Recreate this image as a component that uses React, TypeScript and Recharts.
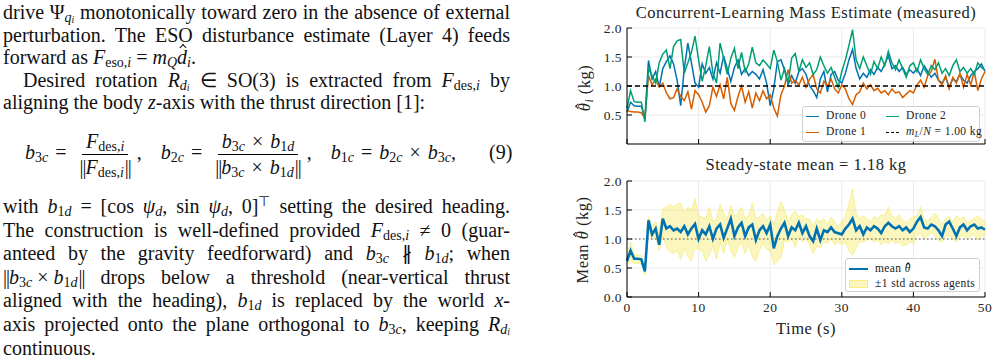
import React from 'react';
import { ComposedChart, Line, Area, XAxis, YAxis, CartesianGrid, ReferenceLine } from 'recharts';

// time axis (s)
const TIME = [
  0, 0.5, 1, 1.5, 2, 2.5, 3, 3.5, 4, 4.5, 5, 5.5, 6, 6.5, 7, 7.5, 8, 8.5, 9, 9.5,
  10, 10.5, 11, 11.5, 12, 12.5, 13, 13.5, 14, 14.5, 15, 15.5, 16, 16.5, 17, 17.5, 18, 18.5, 19, 19.5,
  20, 20.5, 21, 21.5, 22, 22.5, 23, 23.5, 24, 24.5, 25, 25.5, 26, 26.5, 27, 27.5, 28, 28.5, 29, 29.5,
  30, 30.5, 31, 31.5, 32, 32.5, 33, 33.5, 34, 34.5, 35, 35.5, 36, 36.5, 37, 37.5, 38, 38.5, 39, 39.5,
  40, 40.5, 41, 41.5, 42, 42.5, 43, 43.5, 44, 44.5, 45, 45.5, 46, 46.5, 47, 47.5, 48, 48.5, 49, 49.5,
  50,
];

// per-drone mass estimates (kg)
const DRONE0 = [
  0.55, 0.72, 0.66, 0.65, 0.65, 0.45, 1.44, 1.12, 1.25, 0.98,
  1.30, 1.42, 1.52, 1.38, 1.10, 0.66, 1.30, 1.74, 1.40, 1.05,
  0.98, 1.38, 1.22, 1.32, 1.12, 1.40, 1.22, 1.52, 1.30, 1.08,
  1.32, 1.45, 1.20, 1.30, 1.18, 1.25, 1.20, 1.12, 1.28, 1.05,
  0.66, 0.95, 1.42, 1.45, 1.28, 1.02, 1.18, 1.05, 1.25, 1.30,
  1.20, 1.00, 0.92, 0.80, 1.12, 1.25, 0.90, 1.20, 1.25, 1.10,
  1.05, 1.22, 1.45, 1.63, 1.30, 1.12, 1.22, 1.15, 1.28, 1.20,
  1.32, 1.25, 1.38, 1.52, 1.30, 1.35, 1.25, 1.32, 1.20, 1.28,
  1.22, 1.30, 1.18, 1.35, 1.25, 1.15, 1.22, 1.10, 1.05, 1.15,
  0.98, 1.12, 1.08, 1.20, 1.10, 1.05, 1.18, 1.25, 1.30, 1.38,
  1.25,
];
const DRONE1 = [
  0.58, 0.56, 0.55, 0.55, 0.54, 0.44, 1.18, 1.02, 1.12, 0.98,
  1.05, 0.88, 0.78, 0.80, 0.95, 0.82, 0.75, 0.90, 0.60, 0.92,
  0.85, 0.72, 0.55, 0.66, 0.98, 0.82, 1.02, 0.78, 1.15, 0.70,
  0.58, 0.82, 1.00, 0.72, 0.90, 0.62, 0.88, 0.75, 0.92, 0.78,
  0.85, 0.62, 0.48, 0.85, 1.00, 1.28, 1.05, 1.10, 1.02, 1.15,
  0.98, 1.12, 1.20, 0.95, 0.88, 1.08, 1.00, 1.12, 0.95, 0.88,
  1.02, 0.95, 0.78, 0.68, 0.85, 0.90, 1.05, 0.95, 1.02, 0.92,
  0.96, 0.88, 0.92, 0.85, 0.95, 0.88, 0.90, 0.80, 0.86, 0.92,
  0.88, 1.02, 1.10, 0.98, 1.18, 1.25, 1.46, 1.10, 1.02, 1.18,
  0.95, 1.15, 1.05, 1.22, 0.98, 1.20, 1.02, 1.25, 0.92, 1.12,
  1.25,
];
const DRONE2 = [
  0.62, 0.92, 0.73, 0.72, 0.72, 0.38, 1.30, 1.18, 1.05, 1.40,
  1.55, 1.62, 1.30, 1.68, 1.78, 1.80, 1.22, 1.40, 1.58, 1.86,
  1.45, 1.08, 1.35, 1.68, 1.22, 1.05, 1.74, 1.48, 1.20, 1.48,
  1.65, 1.30, 1.58, 1.25, 1.38, 1.67, 1.40, 1.35, 1.45, 1.38,
  1.30, 1.62, 1.42, 1.10, 1.30, 1.05, 1.48, 1.56, 1.25, 1.45,
  1.32, 1.40, 1.20, 1.28, 1.50, 1.35, 1.22, 1.32, 1.15, 0.98,
  1.25, 1.45, 1.70, 1.97, 1.45, 1.30, 1.50, 1.35, 1.20, 1.42,
  1.30, 1.50, 1.35, 1.60, 1.40, 1.28, 1.45, 1.30, 1.15, 1.35,
  1.40, 1.25, 1.45, 1.30, 1.20, 1.35, 1.28, 1.40, 1.22, 1.30,
  1.18, 1.35, 1.45, 1.25, 1.32, 1.22, 1.30, 1.20, 1.40, 1.32,
  1.28,
];

// mean estimate and ±1 std band (kg)
const MEAN = [
  0.62, 0.80, 0.66, 0.66, 0.65, 0.44, 1.32, 1.08, 1.18, 0.90,
  1.35, 1.18, 1.22, 1.15, 1.18, 1.12, 1.22, 1.08, 1.18, 1.26,
  1.00, 1.15, 1.08, 1.22, 1.00, 1.18, 1.25, 1.02, 1.18, 1.35,
  1.05, 1.20, 1.28, 1.05, 1.20, 1.25, 0.98, 1.15, 1.22, 1.10,
  1.25, 0.84, 1.05, 1.18, 1.28, 1.05, 1.20, 1.15, 1.28, 1.10,
  1.22, 1.05, 0.96, 1.18, 0.98, 1.15, 1.12, 1.20, 1.12, 1.10,
  1.08, 1.18, 1.25, 1.35, 1.15, 1.22, 1.08, 1.20, 1.15, 1.22,
  1.18, 1.10, 1.22, 1.28, 1.22, 1.18, 1.22, 1.15, 1.20, 1.12,
  1.18, 1.30, 1.38, 1.20, 1.18, 1.25, 1.22, 1.15, 1.05, 1.25,
  1.30, 1.18, 1.05, 1.20, 1.25, 1.15, 1.22, 1.25, 1.18, 1.20,
  1.16,
];
const UPPER = [
  0.70, 0.95, 0.74, 0.73, 0.72, 0.50, 1.38, 1.22, 1.30, 1.15,
  1.52, 1.55, 1.60, 1.55, 1.60, 1.62, 1.45, 1.55, 1.50, 1.70,
  1.40, 1.38, 1.35, 1.55, 1.30, 1.35, 1.60, 1.45, 1.35, 1.58,
  1.40, 1.45, 1.55, 1.35, 1.40, 1.62, 1.35, 1.38, 1.45, 1.32,
  1.40, 1.25, 1.45, 1.65, 1.50, 1.30, 1.42, 1.48, 1.38, 1.42,
  1.35, 1.35, 1.22, 1.35, 1.30, 1.35, 1.25, 1.38, 1.30, 1.22,
  1.30, 1.38, 1.62, 1.86, 1.45, 1.35, 1.40, 1.35, 1.30, 1.38,
  1.35, 1.42, 1.40, 1.55, 1.40, 1.35, 1.42, 1.32, 1.28, 1.35,
  1.38, 1.40, 1.55, 1.35, 1.30, 1.38, 1.45, 1.35, 1.25, 1.35,
  1.38, 1.30, 1.40, 1.35, 1.38, 1.28, 1.32, 1.35, 1.40, 1.35,
  1.30,
];
const LOWER = [
  0.56, 0.62, 0.58, 0.58, 0.57, 0.38, 1.20, 0.98, 1.05, 0.80,
  1.05, 0.85, 0.78, 0.75, 0.80, 0.65, 0.85, 0.70, 0.62, 0.85,
  0.82, 0.80, 0.62, 0.72, 0.90, 0.65, 0.95, 0.75, 1.00, 0.80,
  0.68, 0.85, 0.95, 0.75, 0.90, 0.70, 0.62, 0.80, 0.92, 0.82,
  0.80, 0.55, 0.62, 0.68, 0.98, 0.95, 1.00, 0.85, 1.05, 0.95,
  1.00, 0.90, 0.75, 0.88, 0.85, 0.95, 0.92, 1.00, 0.90, 0.95,
  0.90, 0.95, 0.80, 0.72, 0.85, 0.95, 0.95, 0.98, 1.00, 0.95,
  0.98, 0.90, 0.95, 0.92, 0.98, 0.92, 0.95, 0.88, 0.90, 0.95,
  0.92, 1.05, 1.10, 1.00, 1.05, 1.12, 1.05, 0.98, 0.95, 1.05,
  1.05, 1.00, 0.95, 1.05, 1.05, 1.00, 1.05, 1.08, 0.98, 1.05,
  1.05,
];

const X_TICKS = [0, 10, 20, 30, 40, 50];
const Y_TICKS = [0, 0.5, 1.0, 1.5, 2.0];
const TARGET_MASS = 1.0;

const BLUE = '#0072B2';
const VERMILLION = '#D55E00';
const GREEN = '#009E73';
const YELLOW = '#F0E442';

const rows = TIME.map((t, i) => ({
  t,
  d0: DRONE0[i],
  d1: DRONE1[i],
  d2: DRONE2[i],
  mean: MEAN[i],
  band: [LOWER[i], UPPER[i]],
}));

const SERIF = "'Liberation Serif', 'Times New Roman', serif";
const tickStyle = { fill: '#262626', fontSize: 13.5, fontFamily: SERIF, letterSpacing: 0.5 };

type Kids = { children?: React.ReactNode };

const I = ({ children }: Kids) => <span style={{ fontStyle: 'italic' }}>{children}</span>;
const Sb = ({ children, shift = 0.22 }: Kids & { shift?: number }) => (
  <span style={{ fontSize: '0.7em', position: 'relative', top: `${shift}em`, lineHeight: 0 }}>{children}</span>
);
// hat accent, drawn as a small chevron over the glyph
const Hat = ({ children, lift = 0 }: Kids & { lift?: number }) => (
  <span style={{ position: 'relative', display: 'inline-block', lineHeight: 1 }}>
    {children}
    <span
      style={{
        position: 'absolute',
        left: '60%',
        top: `${0.02 - lift}em`,
        width: '0.2em',
        height: '0.2em',
        borderLeft: '1px solid currentColor',
        borderTop: '1px solid currentColor',
        transform: 'translateX(-50%) rotate(45deg)',
      }}
    />
  </span>
);
const Op = ({ children, gap = 7 }: Kids & { gap?: number }) => <span style={{ margin: `0 ${gap}px` }}>{children}</span>;
const Norm = ({ children }: Kids) => (
  <>
    <span style={{ letterSpacing: -1 }}>||</span>
    {children}
    <span style={{ letterSpacing: -1, marginLeft: 1 }}>||</span>
  </>
);
const Bv = ({ n, s }: { n: string; s: string }) => (
  <>
    <I>b</I>
    <Sb>
      {n}
      <I>{s}</I>
    </Sb>
  </>
);
const Fdes = () => (
  <>
    <I>F</I>
    <Sb>
      des,<I>i</I>
    </Sb>
  </>
);

const Frac = ({ num, den }: { num: React.ReactNode; den: React.ReactNode }) => (
  <span style={{ display: 'inline-flex', flexDirection: 'column', alignItems: 'center', verticalAlign: 'middle', margin: '0 2px' }}>
    <span style={{ padding: '0 4px 1px', borderBottom: '1px solid #000', lineHeight: '23px' }}>{num}</span>
    <span style={{ padding: '1px 4px 0', lineHeight: '23px' }}>{den}</span>
  </span>
);

const lineStyle = (top: number, justify: boolean, indent = 0): React.CSSProperties => ({
  position: 'absolute',
  left: 3 + indent,
  top,
  width: 507 - indent,
  height: 24,
  lineHeight: '24px',
  textAlign: justify ? 'justify' : 'left',
  textAlignLast: justify ? 'justify' : 'left',
});

const BodyText = () => {
  const top1 = 0;
  const top2 = 194;
  const s1 = 22.6;
  const s2 = 23.6;
  return (
    <div style={{ position: 'absolute', left: 0, top: 0, width: 520, height: 361, fontFamily: SERIF, fontSize: 20, color: '#111' }}>
      <div style={lineStyle(top1, true)}>
        drive Ψ<Sb><I>q</I><Sb shift={0.12}><I>i</I></Sb></Sb> monotonically toward zero in the absence of external
      </div>
      <div style={lineStyle(top1 + s1, true)}>perturbation. The ESO disturbance estimate (Layer 4) feeds</div>
      <div style={lineStyle(top1 + 2 * s1, false)}>
        forward as <I>F</I><Sb>eso,<I>i</I></Sb> = <I>m</I><Sb><I>Q</I></Sb><I><Hat lift={0.12}>d</Hat></I><Sb><I>i</I></Sb>.
      </div>
      <div style={lineStyle(top1 + 3 * s1, true, 20)}>
        Desired rotation <I>R</I><Sb><I>d</I><Sb shift={0.12}><I>i</I></Sb></Sb> ∈ SO(3) is extracted from <Fdes /> by
      </div>
      <div style={lineStyle(top1 + 4 * s1, false)}>
        aligning the body <I>z</I>-axis with the thrust direction [1]:
      </div>

      {/* equation (9) */}
      <div style={{ position: 'absolute', left: 25, top: 127, height: 50, lineHeight: '50px', whiteSpace: 'nowrap' }}>
        <Bv n="3" s="c" />
        <Op>=</Op>
        <Frac num={<Fdes />} den={<Norm><Fdes /></Norm>} />
        <span style={{ marginRight: 19 }}>,</span>
        <Bv n="2" s="c" />
        <Op>=</Op>
        <Frac
          num={<><Bv n="3" s="c" /><Op>×</Op><Bv n="1" s="d" /></>}
          den={<Norm><Bv n="3" s="c" /><Op>×</Op><Bv n="1" s="d" /></Norm>}
        />
        <span style={{ marginRight: 19 }}>,</span>
        <Bv n="1" s="c" />
        <Op>=</Op>
        <Bv n="2" s="c" />
        <Op>×</Op>
        <Bv n="3" s="c" />,
      </div>
      <div style={{ position: 'absolute', left: 489, top: 127, height: 50, lineHeight: '50px' }}>(9)</div>

      <div style={lineStyle(top2, true)}>
        with <Bv n="1" s="d" /> = [cos <I>ψ</I><Sb><I>d</I></Sb>, sin <I>ψ</I><Sb><I>d</I></Sb>, 0]
        <span style={{ fontSize: '0.7em', position: 'relative', top: '-0.5em', lineHeight: 0 }}>⊤</span> setting the desired heading.
      </div>
      <div style={lineStyle(top2 + s2, true)}>
        The construction is well-defined provided <Fdes /> ≠ 0 (guar-
      </div>
      <div style={lineStyle(top2 + 2 * s2, true)}>
        anteed by the gravity feedforward) and <Bv n="3" s="c" /> ∦ <Bv n="1" s="d" />; when
      </div>
      <div style={lineStyle(top2 + 3 * s2, true)}>
        <Norm><Bv n="3" s="c" /><Op gap={5}>×</Op><Bv n="1" s="d" /></Norm> drops below a threshold (near-vertical thrust
      </div>
      <div style={lineStyle(top2 + 4 * s2, true)}>
        aligned with the heading), <Bv n="1" s="d" /> is replaced by the world <I>x</I>-
      </div>
      <div style={lineStyle(top2 + 5 * s2, true)}>
        axis projected onto the plane orthogonal to <Bv n="3" s="c" />, keeping <I>R</I><Sb><I>d</I><Sb shift={0.12}><I>i</I></Sb></Sb>
      </div>
      <div style={lineStyle(top2 + 6 * s2, false)}>continuous.</div>
    </div>
  );
};

const abs = (left: number, top: number, extra: React.CSSProperties = {}): React.CSSProperties => ({
  position: 'absolute',
  left,
  top,
  ...extra,
});

const Swatch = ({ color, width, thick = 1.6, dashed = false }: { color: string; width: number; thick?: number; dashed?: boolean }) => (
  <span
    style={{
      display: 'inline-block',
      width,
      height: 0,
      borderTop: `${thick}px ${dashed ? 'dashed' : 'solid'} ${color}`,
      verticalAlign: 'middle',
      marginRight: 7,
    }}
  />
);

const legendBox: React.CSSProperties = {
  position: 'absolute',
  background: 'rgba(255,255,255,0.85)',
  border: '1px solid #cfcfcf',
  borderRadius: 3,
  fontFamily: SERIF,
  fontSize: 11.5,
  letterSpacing: 0.4,
  color: '#222',
  boxSizing: 'border-box',
};

const labelStyle: React.CSSProperties = {
  fontFamily: SERIF,
  fontSize: 16.5,
  letterSpacing: 0.5,
  color: '#222',
  whiteSpace: 'nowrap',
};

const TopChart = () => (
  <div style={abs(560, 0)}>
    <ComposedChart width={438} height={150} data={rows} margin={{ top: 28, right: 13, bottom: 0, left: 0 }}>
      <CartesianGrid stroke="#e6e6e6" strokeWidth={0.8} />
      <XAxis
        dataKey="t"
        type="number"
        domain={[0, 50]}
        ticks={X_TICKS}
        height={6}
        tickSize={-5}
        tickFormatter={() => ''}
        axisLine={{ stroke: '#000', strokeWidth: 1 }}
        tickLine={{ stroke: '#000', strokeWidth: 1 }}
      />
      <YAxis
        type="number"
        domain={[0, 2]}
        ticks={Y_TICKS}
        width={67}
        tickSize={-5}
        tickMargin={10}
        tick={tickStyle}
        tickFormatter={(v: number) => v.toFixed(1)}
        axisLine={{ stroke: '#000', strokeWidth: 1 }}
        tickLine={{ stroke: '#000', strokeWidth: 1 }}
      />
      <Line type="linear" dataKey="d0" stroke={BLUE} strokeWidth={1.5} dot={false} isAnimationActive={false} />
      <Line type="linear" dataKey="d1" stroke={VERMILLION} strokeWidth={1.5} dot={false} isAnimationActive={false} />
      <Line type="linear" dataKey="d2" stroke={GREEN} strokeWidth={1.5} dot={false} isAnimationActive={false} />
      <ReferenceLine y={TARGET_MASS} stroke="#000" strokeWidth={1.4} strokeDasharray="5 3" />
    </ComposedChart>
  </div>
);

const BottomChart = () => (
  <div style={abs(560, 150)}>
    <ComposedChart width={438} height={211} data={rows} margin={{ top: 31, right: 13, bottom: 0, left: 0 }}>
      <CartesianGrid stroke="#e6e6e6" strokeWidth={0.8} />
      <XAxis
        dataKey="t"
        type="number"
        domain={[0, 50]}
        ticks={X_TICKS}
        height={64}
        tickSize={-5}
        tickMargin={10}
        tick={tickStyle}
        axisLine={{ stroke: '#000', strokeWidth: 1 }}
        tickLine={{ stroke: '#000', strokeWidth: 1 }}
      />
      <YAxis
        type="number"
        domain={[0, 2]}
        ticks={Y_TICKS}
        width={67}
        tickSize={-5}
        tickMargin={10}
        tick={tickStyle}
        tickFormatter={(v: number) => v.toFixed(1)}
        axisLine={{ stroke: '#000', strokeWidth: 1 }}
        tickLine={{ stroke: '#000', strokeWidth: 1 }}
      />
      <Area
        type="linear"
        dataKey="band"
        fill={YELLOW}
        fillOpacity={0.35}
        stroke={YELLOW}
        strokeOpacity={0.45}
        strokeWidth={1}
        isAnimationActive={false}
      />
      <ReferenceLine y={TARGET_MASS} stroke="#555" strokeWidth={1.2} strokeDasharray="1.5 2.5" />
      <Line type="linear" dataKey="mean" stroke={BLUE} strokeWidth={2.6} dot={false} isAnimationActive={false} />
    </ComposedChart>
  </div>
);

export default function App() {
  return (
    <div style={{ position: 'fixed', left: 0, top: 0, width: 998, height: 361, background: '#fff', overflow: 'hidden' }}>
      <BodyText />

      <TopChart />
      <BottomChart />

      {/* titles and axis labels */}
      <div style={abs(806, 13, { ...labelStyle, transform: 'translate(-50%, -50%)' })}>
        Concurrent-Learning Mass Estimate (measured)
      </div>
      <div style={abs(806, 165, { ...labelStyle, transform: 'translate(-50%, -50%)' })}>
        Steady-state mean = 1.18 kg
      </div>
      <div style={abs(806, 329, { ...labelStyle, transform: 'translate(-50%, -50%)' })}>Time (s)</div>
      <div style={abs(585, 88, { ...labelStyle, transform: 'translate(-50%, -50%) rotate(-90deg)' })}>
        <I><Hat lift={0.08}>θ</Hat></I><Sb><I>i</I></Sb> (kg)
      </div>
      <div style={abs(583, 240, { ...labelStyle, transform: 'translate(-50%, -50%) rotate(-90deg)' })}>
        Mean <I><Hat lift={0.08}>θ</Hat></I> (kg)
      </div>

      {/* legend, top panel */}
      <div style={{ ...legendBox, left: 802, top: 106, width: 178, height: 36 }}>
        <div style={abs(3, 1, { whiteSpace: 'nowrap', lineHeight: '15px' })}>
          <Swatch color={BLUE} width={13} />Drone 0
        </div>
        <div style={abs(83, 1, { whiteSpace: 'nowrap', lineHeight: '15px' })}>
          <Swatch color={GREEN} width={13} />Drone 2
        </div>
        <div style={abs(3, 17, { whiteSpace: 'nowrap', lineHeight: '15px' })}>
          <Swatch color={VERMILLION} width={13} />Drone 1
        </div>
        <div style={abs(83, 17, { whiteSpace: 'nowrap', lineHeight: '15px' })}>
          <Swatch color="#000" width={13} dashed />
          <I>m</I><Sb><I>L</I></Sb>/<I>N</I> = 1.00 kg
        </div>
      </div>

      {/* legend, bottom panel */}
      <div style={{ ...legendBox, left: 845, top: 258, width: 135, height: 34 }}>
        <div style={abs(3, 2, { whiteSpace: 'nowrap', lineHeight: '15px' })}>
          <Swatch color={BLUE} width={19} thick={2.6} />mean <I><Hat lift={0.05}>θ</Hat></I>
        </div>
        <div style={abs(3, 17, { whiteSpace: 'nowrap', lineHeight: '15px' })}>
          <span
            style={{
              display: 'inline-block',
              width: 19,
              height: 8,
              background: 'rgba(240,228,66,0.35)',
              border: '1px solid rgba(240,228,66,0.5)',
              boxSizing: 'border-box',
              verticalAlign: 'middle',
              marginRight: 7,
            }}
          />
          ±1 std across agents
        </div>
      </div>
    </div>
  );
}
